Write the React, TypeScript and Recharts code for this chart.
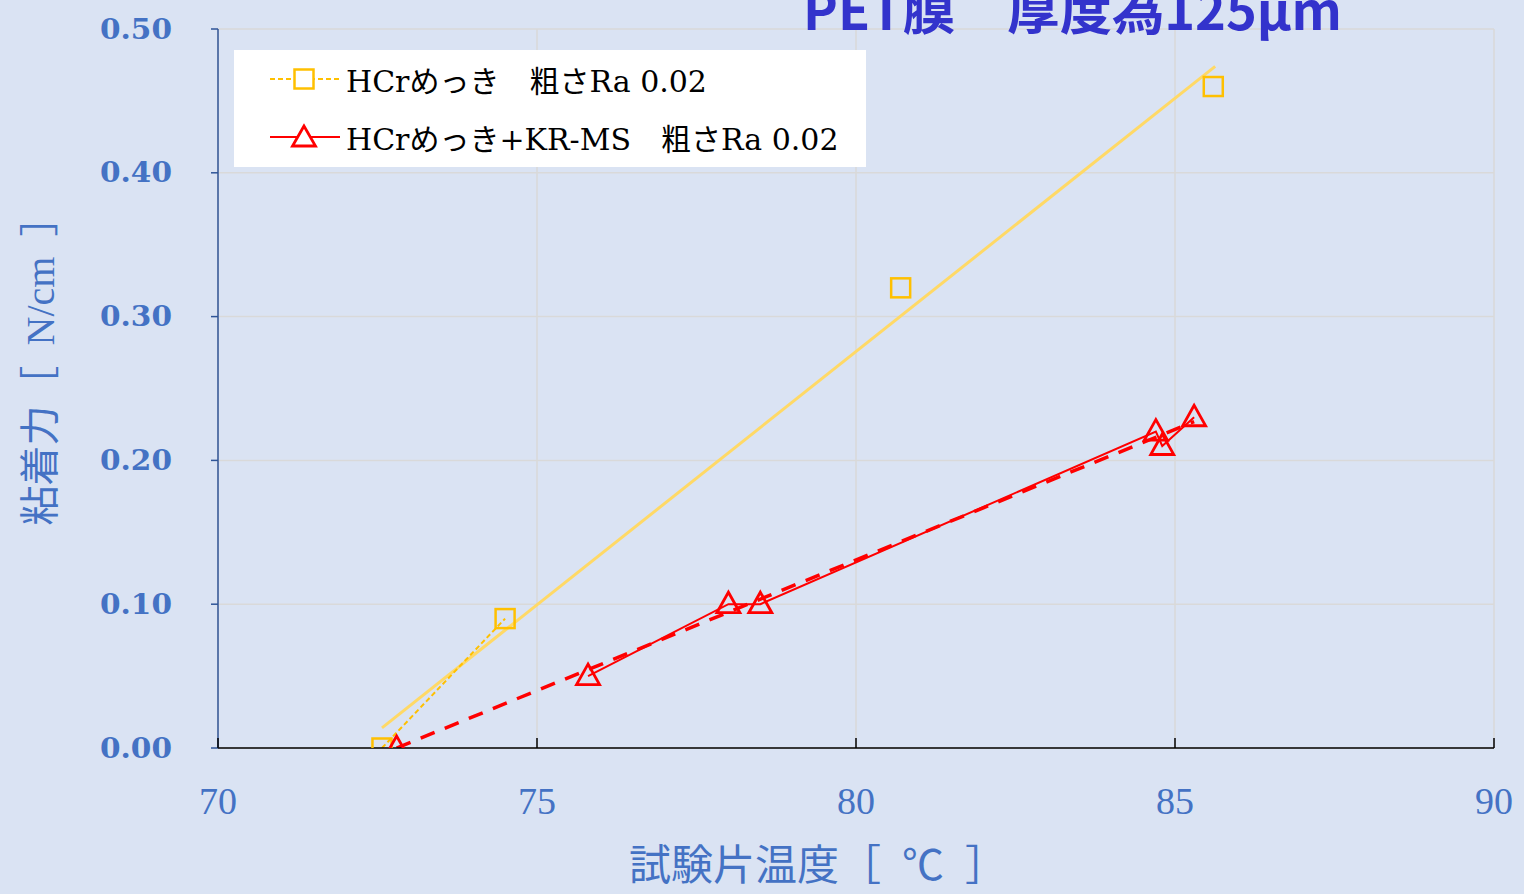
import React from 'react'
import { ComposedChart, Line, XAxis, YAxis, CartesianGrid, Legend, Label } from 'recharts'

// HCrめっき
const hcrTemp = [72.57, 74.5, 80.7, 85.6]
const hcrForce = [0.0, 0.09, 0.32, 0.46]
// HCrめっき+KR-MS
const krTemp = [72.8, 75.8, 78.0, 78.5, 84.7, 84.8, 85.3]
const krForce = [0.0, 0.05, 0.1, 0.1, 0.22, 0.21, 0.23]
// linear trend lines (start / end)
const hcrTrendTemp = [72.57, 85.63]
const hcrTrendForce = [0.014, 0.474]
const krTrendTemp = [72.8, 85.3]
const krTrendForce = [0.0, 0.227]

const xTicks = [70, 75, 80, 85, 90]
const yTicks = [0, 0.1, 0.2, 0.3, 0.4, 0.5]

const seriesNames = ['HCrめっき　粗さRa 0.02', 'HCrめっき+KR-MS　粗さRa 0.02']
const title = 'PET膜　厚度為125μm'
const xTitle = '試験片温度［\u2002℃\u2002］'
const yTitle = '粘着力［\u2002N/cm\u2002］'

const BG = '#dae3f3'
const AXIS_BLUE = '#4472c4'
const YELLOW = '#ffc000'
const YELLOW_TREND = '#ffd966'
const RED = '#ff0000'

const toPoints = (xs: number[], ys: number[]) => xs.map((x, i) => ({ x, y: ys[i] }))

const hcrData = toPoints(hcrTemp, hcrForce)
const krData = toPoints(krTemp, krForce)
const hcrTrend = toPoints(hcrTrendTemp, hcrTrendForce)
const krTrend = toPoints(krTrendTemp, krTrendForce)

const Square = (props: any) => {
  const { cx, cy, index } = props
  if (cx == null || cy == null) return <g key={`sq-${index}`} />
  return (
    <rect key={`sq-${index}`} x={cx - 9.5} y={cy - 9.5} width={19} height={19}
      fill="none" stroke={YELLOW} strokeWidth={2.5} />
  )
}

const Triangle = (props: any) => {
  const { cx, cy, index } = props
  if (cx == null || cy == null) return <g key={`tr-${index}`} />
  return (
    <polygon key={`tr-${index}`}
      points={`${cx},${cy - 12} ${cx - 11.5},${cy + 8.5} ${cx + 11.5},${cy + 8.5}`}
      fill="none" stroke={RED} strokeWidth={2.8} strokeLinejoin="miter" />
  )
}

const YTick = ({ x, y, payload }: any) => (
  <text x={x} y={y} textAnchor="end" dominantBaseline="central" fill={AXIS_BLUE}
    fontFamily="'DejaVu Serif'" fontWeight="bold" fontSize={28}
    textLength={72} lengthAdjust="spacingAndGlyphs">
    {Number(payload.value).toFixed(2)}
  </text>
)

const XTick = ({ x, y, payload }: any) => (
  <g>
    <line x1={x} y1={y} x2={x} y2={y - 10} stroke="#000" strokeWidth={1.5} />
    <text x={x} y={y + 53} textAnchor="middle" dominantBaseline="central" fill={AXIS_BLUE}
      fontFamily="'Liberation Serif'" fontSize={38}>
      {payload.value}
    </text>
  </g>
)

const LegendBox = () => (
  <div style={{ background: '#fff', width: 632, height: 117, position: 'relative',
    fontFamily: "'DejaVu Serif', 'Noto Sans CJK JP'", fontSize: 30, color: '#000' }}>
    {seriesNames.map((name, i) => (
      <div key={name} style={{ position: 'absolute', left: 34, top: 29 + i * 58 - 20, height: 40,
        display: 'flex', alignItems: 'center', whiteSpace: 'nowrap' }}>
        <svg width={74} height={40}>
          {i === 0 ? (
            <>
              <line x1={2} y1={20} x2={72} y2={20} stroke={YELLOW} strokeWidth={2} strokeDasharray="5 3" />
              <rect x={26.5} y={10.5} width={19} height={19} fill="#fff" stroke={YELLOW} strokeWidth={2.5} />
            </>
          ) : (
            <>
              <line x1={2} y1={20} x2={72} y2={20} stroke={RED} strokeWidth={2} />
              <polygon points="36,9 24.5,29 47.5,29" fill="#fff" stroke={RED} strokeWidth={2.8} />
            </>
          )}
        </svg>
        <span style={{ marginLeft: 4 }}>{name}</span>
      </div>
    ))}
  </div>
)

export default function App() {
  return (
    <div style={{ position: 'absolute', left: 0, top: 0, width: 1524, height: 894,
      background: BG, overflow: 'hidden' }}>
      <ComposedChart width={1524} height={894} margin={{ top: 29, right: 30, bottom: 0, left: 0 }}>
        <CartesianGrid stroke="#d9d9d9" strokeWidth={1.5} />
        <XAxis type="number" dataKey="x" domain={[70, 90]} ticks={xTicks} height={146}
          axisLine={{ stroke: '#000', strokeWidth: 1.5 }} tickLine={false} tickSize={0} tickMargin={0}
          tick={<XTick />} allowDataOverflow>
          <Label content={({ viewBox }: any) => (
            <text x={viewBox.x + 600} y={viewBox.y + 118} textAnchor="middle" dominantBaseline="central"
              fill={AXIS_BLUE} fontFamily="'Liberation Serif', 'Noto Sans CJK JP'" fontSize={42}>
              {xTitle}
            </text>
          )} />
        </XAxis>
        <YAxis type="number" domain={[0, 0.5]} ticks={yTicks} width={218}
          axisLine={{ stroke: '#2f5597', strokeWidth: 1.5 }}
          tickLine={{ stroke: '#2f5597', strokeWidth: 1.5 }} tickSize={7} tickMargin={39}
          tick={<YTick />} allowDataOverflow>
          <Label content={({ viewBox }: any) => (
            <text x={40} y={viewBox.y + 332} textAnchor="middle" dominantBaseline="central"
              transform={`rotate(-90 40 ${viewBox.y + 332})`}
              fill={AXIS_BLUE} fontFamily="'Liberation Serif', 'Noto Sans CJK JP'" fontSize={40}>
              {yTitle}
            </text>
          )} />
        </YAxis>
        <Legend layout="vertical" verticalAlign="middle" align="center" content={<LegendBox />}
          wrapperStyle={{ top: 50, left: 234, width: 632, height: 117, margin: 0 }} />

        <Line data={hcrTrend} dataKey="y" stroke={YELLOW_TREND} strokeWidth={3} dot={false}
          isAnimationActive={false} legendType="none" />
        <Line data={krTrend} dataKey="y" stroke={RED} strokeWidth={3.5} strokeDasharray="15 11"
          dot={false} isAnimationActive={false} legendType="none" />
        <Line data={hcrData.slice(0, 2)} dataKey="y" stroke={YELLOW} strokeWidth={2}
          strokeDasharray="5 3" dot={false} isAnimationActive={false} legendType="none" />
        <Line data={krData.slice(1)} dataKey="y" stroke={RED} strokeWidth={2} dot={false}
          isAnimationActive={false} legendType="none" />
        <Line data={hcrData} dataKey="y" name={seriesNames[0]} stroke="none" dot={Square}
          isAnimationActive={false} />
        <Line data={krData} dataKey="y" name={seriesNames[1]} stroke="none" dot={Triangle}
          isAnimationActive={false} />
      </ComposedChart>
      <svg width={1524} height={894} style={{ position: 'absolute', left: 0, top: 0, pointerEvents: 'none' }}>
        <text x={803} y={30} fill="#3333cc" fontFamily="'Noto Sans CJK TC'" fontWeight="bold" fontSize={52}
          textLength={539} lengthAdjust="spacingAndGlyphs">
          {title}
        </text>
      </svg>
    </div>
  )
}
